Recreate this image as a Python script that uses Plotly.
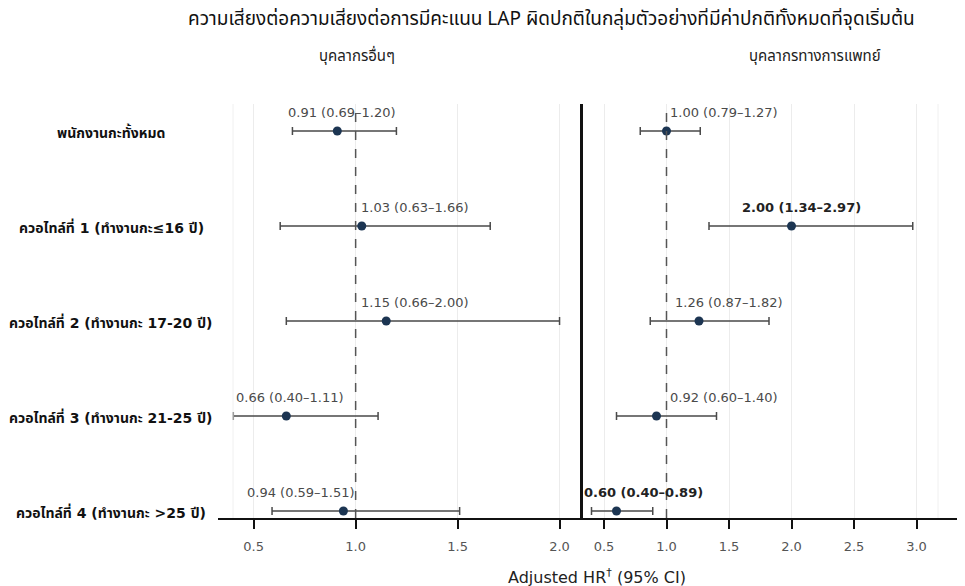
import plotly.graph_objects as go

# ---------------- data ----------------
rows = [
    "พนักงานกะทั้งหมด",
    "ควอไทล์ที่ 1 (ทำงานกะ≤16 ปี)",
    "ควอไทล์ที่ 2 (ทำงานกะ 17-20 ปี)",
    "ควอไทล์ที่ 3 (ทำงานกะ 21-25 ปี)",
    "ควอไทล์ที่ 4 (ทำงานกะ >25 ปี)",
]
row_pos = [4, 3, 2, 1, 0]

other_hr = [0.91, 1.03, 1.15, 0.66, 0.94]
other_lo = [0.69, 0.63, 0.66, 0.40, 0.59]
other_hi = [1.20, 1.66, 2.00, 1.11, 1.51]

med_hr = [1.00, 2.00, 1.26, 0.92, 0.60]
med_lo = [0.79, 1.34, 0.87, 0.60, 0.40]
med_hi = [1.27, 2.97, 1.82, 1.40, 0.89]

sig_other = [False, False, False, False, False]
sig_med = [False, True, False, False, True]

left_ticks = [0.5, 1.0, 1.5, 2.0]
right_ticks = [0.5, 1.0, 1.5, 2.0, 2.5, 3.0]

title = "ความเสี่ยงต่อความเสี่ยงต่อการมีคะแนน LAP ผิดปกติในกลุ่มตัวอย่างที่มีค่าปกติทั้งหมดที่จุดเริ่มต้น"
panel_titles = ["บุคลากรอื่นๆ", "บุคลากรทางการแพทย์"]
x_title = "Adjusted HR<sup>†</sup> (95% CI)"

# label placement (data-unit centers of the value labels)
other_label_x = [0.933, 1.291, 1.289, 0.678, 0.734]
med_label_x = [1.46, 2.076, 1.496, 1.46, 0.812]

# ---------------- layout constants ----------------
OFF = 8                      # page body margin
W, H = 965 - OFF, 586 - OFF


def px(v):
    return (v - OFF) / W


def py(v):
    return 1 - (v - OFF) / H


FONT = "'DejaVu Sans', 'Noto Sans Thai', Tahoma, sans-serif"
TFONT = "'Noto Sans Thai', Tahoma, 'DejaVu Sans', sans-serif"
top_px, bot_px = 104, 518
left_dom = (px(218), px(583))
right_dom = (px(583), 1.0)
ydom = (py(bot_px), py(top_px))
yrange = [-0.074, 4.284]
left_range = [0.325, 2.115]
right_range = [0.332, 3.388]

MARK = "#1c3552"
BAR = "#4a4a4a"

fig = go.Figure()


def add_panel(hr, lo, hi, xa, ya):
    fig.add_trace(go.Scatter(
        x=hr, y=row_pos, mode="markers",
        marker=dict(color=MARK, size=9),
        error_x=dict(type="data", symmetric=False,
                     array=[h - v for h, v in zip(hi, hr)],
                     arrayminus=[v - l for v, l in zip(hr, lo)],
                     color=BAR, thickness=1.5, width=4),
        xaxis=xa, yaxis=ya, showlegend=False, hoverinfo="skip",
    ))


add_panel(other_hr, other_lo, other_hi, "x", "y")
add_panel(med_hr, med_lo, med_hi, "x2", "y2")

annotations = []


def fmt(v, l, h):
    return f"{v:.2f} ({l:.2f}–{h:.2f})"


for hr, lo, hi, lx, sig, xr, yr in [
    (other_hr, other_lo, other_hi, other_label_x, sig_other, "x", "y"),
    (med_hr, med_lo, med_hi, med_label_x, sig_med, "x2", "y2"),
]:
    for i in range(len(rows)):
        t = fmt(hr[i], lo[i], hi[i])
        if sig[i]:
            t = f"<b>{t}</b>"
        annotations.append(dict(
            x=lx[i], y=row_pos[i], xref=xr, yref=yr, text=t, showarrow=False,
            xanchor="center", yanchor="middle", yshift=18,
            font=dict(family=FONT, size=13, color="#222" if sig[i] else "#4a4a4a"),
        ))

for i, r in enumerate(rows):
    annotations.append(dict(
        x=px(111), y=row_pos[i], xref="paper", yref="y", text=f"<b>{r}</b>",
        showarrow=False, xanchor="center", yanchor="middle", yshift=-1,
        font=dict(family=FONT, size=14, color="#111"),
    ))

annotations.append(dict(x=px(551), y=py(20), xref="paper", yref="paper",
                        text=title, showarrow=False,
                        xanchor="center", yanchor="middle",
                        font=dict(family=TFONT, size=19, color="#111")))
annotations.append(dict(x=px(357), y=py(57), xref="paper", yref="paper",
                        text=panel_titles[0], showarrow=False,
                        xanchor="center", yanchor="middle",
                        font=dict(family=TFONT, size=15, color="#222")))
annotations.append(dict(x=px(815), y=py(57), xref="paper", yref="paper",
                        text=panel_titles[1], showarrow=False,
                        xanchor="center", yanchor="middle",
                        font=dict(family=TFONT, size=15, color="#222")))
annotations.append(dict(x=px(597), y=py(576), xref="paper", yref="paper",
                        text=x_title, showarrow=False,
                        xanchor="center", yanchor="middle",
                        font=dict(family=FONT, size=16, color="#222")))

shapes = [
    dict(type="line", xref="x", yref="y domain", x0=1, x1=1, y0=0, y1=1,
         line=dict(color="#555", width=1.5, dash="dash")),
    dict(type="line", xref="x2", yref="y2 domain", x0=1, x1=1, y0=0, y1=1,
         line=dict(color="#555", width=1.5, dash="dash")),
    # faint panel borders
    dict(type="line", xref="paper", yref="y domain", x0=px(233), x1=px(233),
         y0=0, y1=1, line=dict(color="#f0f0f0", width=1)),
    dict(type="line", xref="paper", yref="y domain", x0=px(938), x1=px(938),
         y0=0, y1=1, line=dict(color="#f0f0f0", width=1)),
]

axis_common = dict(
    showgrid=True, gridcolor="#ececec", gridwidth=1,
    showline=True, linecolor="#111", linewidth=1.5,
    ticks="outside", ticklen=9, tickwidth=1.5, tickcolor="#111",
    tickfont=dict(family=FONT, size=13, color="#555"),
    ticklabelstandoff=7, zeroline=False, tickformat=".1f",
)

fig.update_layout(
    width=W, height=H,
    margin=dict(l=0, r=0, t=0, b=0),
    paper_bgcolor="white", plot_bgcolor="white",
    xaxis=dict(domain=left_dom, range=left_range, tickvals=left_ticks,
               anchor="y", **axis_common),
    yaxis=dict(domain=ydom, range=yrange, showticklabels=False, showgrid=False,
               zeroline=False, showline=False, ticks=""),
    xaxis2=dict(domain=right_dom, range=right_range, tickvals=right_ticks,
                anchor="y2", **axis_common),
    yaxis2=dict(domain=ydom, range=yrange, showticklabels=False, showgrid=False,
                zeroline=False, showline=True, linecolor="#111", linewidth=2.5,
                ticks="", anchor="x2", side="left"),
    annotations=annotations,
    shapes=shapes,
)

fig.write_html("out.html")
